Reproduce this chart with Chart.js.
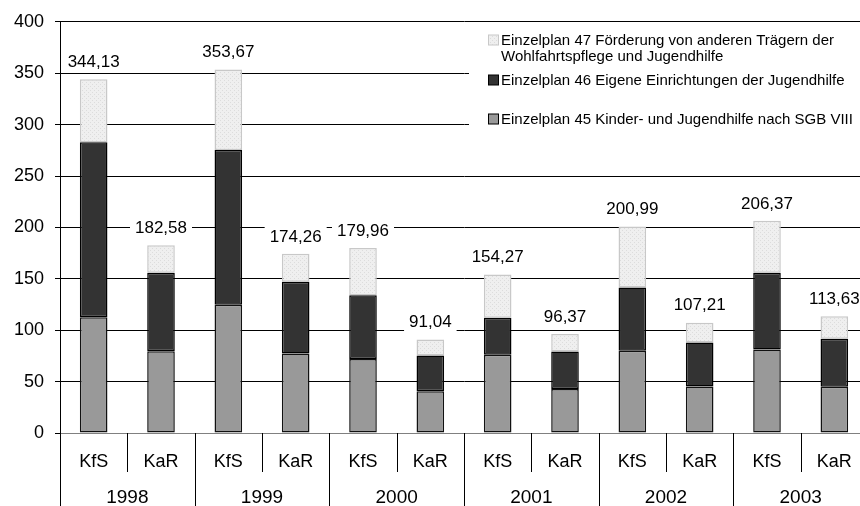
<!DOCTYPE html>
<html>
<head>
<meta charset="utf-8">
<script src="https://cdn.jsdelivr.net/npm/chart.js@4"></script>
<style>
html,body{margin:0;padding:0;background:#fff;overflow:hidden;width:860px;height:506px;}
canvas{display:block;}
</style>
</head>
<body>
<canvas id="c" width="868" height="506"></canvas>
<script>
const categories = ["KfS","KaR","KfS","KaR","KfS","KaR","KfS","KaR","KfS","KaR","KfS","KaR"];
const years = ["1998","1999","2000","2001","2002","2003"];
const ep45 = [112.5, 79.5, 124.8, 77.3, 72.1, 40.7, 76.0, 42.7, 79.9, 45.3, 81.2, 44.9];
const ep46 = [170.4, 76.4, 150.4, 69.8, 61.8, 34.6, 36.2, 36.5, 61.7, 42.7, 74.7, 46.9];
const ep47 = [61.23, 26.68, 78.47, 27.16, 46.06, 15.74, 42.07, 17.17, 59.39, 19.21, 50.47, 21.83];
const totals = [344.13, 182.58, 353.67, 174.26, 179.96, 91.04, 154.27, 96.37, 200.99, 107.21, 206.37, 113.63];
const yTicks = [0, 50, 100, 150, 200, 250, 300, 350, 400];
const legendLabels = [
  ["Einzelplan 47 Förderung von anderen Trägern der", "Wohlfahrtspflege und Jugendhilfe"],
  ["Einzelplan 46 Eigene Einrichtungen der Jugendhilfe"],
  ["Einzelplan 45 Kinder- und Jugendhilfe nach SGB VIII"]
];

const FONT = "'Liberation Sans', Arial, sans-serif";

function makePattern(ctx) {
  const t = document.createElement('canvas');
  t.width = 4; t.height = 4;
  const g = t.getContext('2d');
  g.fillStyle = '#efefef'; g.fillRect(0,0,4,4);
  g.fillStyle = '#dcdcdc';
  g.fillRect(0,0,1,1); g.fillRect(2,2,1,1);
  return ctx.createPattern(t, 'repeat');
}
const ctx = document.getElementById('c').getContext('2d');
const lightFill = makePattern(ctx);

const overlayPlugin = {
  id: 'overlay',
  beforeDatasetsDraw(chart) {
    const c = chart.ctx;
    c.save();
    c.fillStyle = '#fff';
    c.fillRect(469, 26, 420, 143);
    c.restore();
  },
  afterDatasetsDraw(chart) {
    const c = chart.ctx;
    const ys = chart.scales.y;
    const meta = chart.getDatasetMeta(2);
    c.save();
    c.font = "17px " + FONT;
    c.textAlign = 'center';
    c.textBaseline = 'middle';
    totals.forEach((v, i) => {
      const x = meta.data[i].x;
      const y = ys.getPixelForValue(v) - 18;
      const txt = v.toFixed(2).replace('.', ',');
      const w = c.measureText(txt).width + 10;
      c.fillStyle = '#fff';
      c.fillRect(x - w/2, y - 10, w, 20);
      c.fillStyle = '#000';
      c.fillText(txt, x, y + 1);
    });
    c.restore();
  },
  afterDraw(chart) {
    const c = chart.ctx;
    const xs = chart.scales.x;
    const area = chart.chartArea;
    c.save();
    c.fillStyle = '#000';
    c.textAlign = 'center';
    c.textBaseline = 'middle';
    const step = xs.getPixelForValue(1) - xs.getPixelForValue(0);
    c.font = "18px " + FONT;
    categories.forEach((lab, i) => {
      c.fillText(lab, xs.getPixelForValue(i), 462);
    });
    c.font = "19px " + FONT;
    years.forEach((y, j) => {
      const xc = (xs.getPixelForValue(2*j) + xs.getPixelForValue(2*j+1)) / 2;
      c.fillText(y, xc, 498);
    });
    c.strokeStyle = '#000';
    c.lineWidth = 1;
    for (let i = 0; i <= categories.length; i++) {
      const x = Math.round(xs.getPixelForValue(0) - step/2 + i*step) + 0.5;
      c.beginPath();
      c.moveTo(x, area.bottom);
      c.lineTo(x, i % 2 === 0 ? 506 : 472);
      c.stroke();
    }
    const boxes = [
      {fill: lightFill, stroke: '#c8c8c8'},
      {fill: '#333333', stroke: '#000'},
      {fill: '#999999', stroke: '#000'}
    ];
    const rowY = [40, 80, 119];
    c.font = "15px " + FONT;
    c.textAlign = 'left';
    legendLabels.forEach((lines, k) => {
      c.fillStyle = boxes[k].fill;
      c.fillRect(488.5, rowY[k] - 5, 10, 10);
      c.strokeStyle = boxes[k].stroke;
      c.strokeRect(488.5, rowY[k] - 5, 10, 10);
      c.fillStyle = '#000';
      lines.forEach((ln, m) => c.fillText(ln, 501, rowY[k] + m*16 + 1));
    });
    c.restore();
  }
};

new Chart(ctx, {
  type: 'bar',
  data: {
    labels: categories,
    datasets: [
      {label: legendLabels[2].join(' '), data: ep45, backgroundColor: '#999999', borderColor: '#111', borderWidth: 1.5, borderSkipped: false},
      {label: legendLabels[1].join(' '), data: ep46, backgroundColor: '#333333', borderColor: '#000', borderWidth: 1.5, borderSkipped: false},
      {label: legendLabels[0].join(' '), data: ep47, backgroundColor: lightFill, borderColor: '#c8c8c8', borderWidth: 1.5, borderSkipped: false}
    ]
  },
  options: {
    responsive: false,
    animation: false,
    devicePixelRatio: 1,
    layout: {padding: {top: 21, right: 0, bottom: 65, left: 0}},
    datasets: {bar: {categoryPercentage: 1, barPercentage: 0.41}},
    plugins: {legend: {display: false}, tooltip: {enabled: false}},
    scales: {
      x: {
        stacked: true,
        grid: {display: false},
        ticks: {display: false},
        border: {display: true, color: '#808080', width: 1}
      },
      y: {
        stacked: true,
        min: 0, max: 400,
        afterFit(s) { s.width = 60; },
        afterBuildTicks(s) { s.ticks = yTicks.map(v => ({value: v})); },
        ticks: {font: {size: 18, family: FONT}, color: '#000', padding: 11},
        grid: {color: '#000', lineWidth: 1, tickLength: 5, drawTicks: true},
        border: {display: true, color: '#000', width: 1}
      }
    }
  },
  plugins: [overlayPlugin]
});
</script>
</body>
</html>
